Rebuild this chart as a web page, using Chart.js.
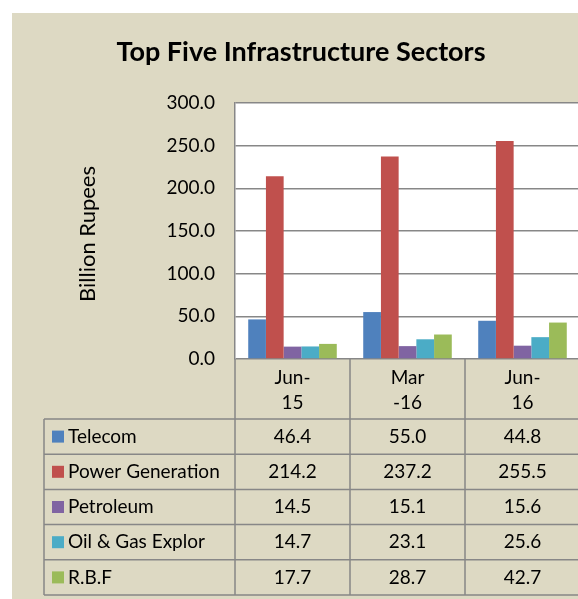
<!DOCTYPE html>
<html>
<head>
<meta charset="utf-8">
<script src="https://cdn.jsdelivr.net/npm/chart.js@4.4.1/dist/chart.umd.min.js"></script>
<style>
  html, body { margin: 0; padding: 0; background: #ffffff; overflow: hidden; }
  #wrap { position: absolute; left: 0; top: 0; width: 582px; height: 599px; }
</style>
</head>
<body>
<div id="wrap"><canvas id="chart" width="582" height="599"></canvas></div>
<script>
// chart data
const categories = [['Jun-', '15'], ['Mar', '-16'], ['Jun-', '16']];
const seriesNames = ['Telecom', 'Power Generation', 'Petroleum', 'Oil & Gas Explor', 'R.B.F'];
const telecom = [46.4, 55.0, 44.8];
const powerGeneration = [214.2, 237.2, 255.5];
const petroleum = [14.5, 15.1, 15.6];
const oilGas = [14.7, 23.1, 25.6];
const rbf = [17.7, 28.7, 42.7];
const yTicks = [0, 50, 100, 150, 200, 250, 300];

const seriesValues = [telecom, powerGeneration, petroleum, oilGas, rbf];
const colors = ['#4F81BD', '#C0504D', '#8064A2', '#4BACC6', '#9BBB59'];

const FONT = 'Lato, "Noto Sans", sans-serif';
const LINE = '#878787';
const TABLE_LEFT = 44;
const HEADER_BOTTOM = 419;
const ROW_H = 35.2;

// background, title, axis title and data table
const tablePlugin = {
    id: 'tablePlugin',
    beforeDraw(chart) {
        const ctx = chart.ctx;
        const a = chart.chartArea;
        ctx.save();
        ctx.fillStyle = '#ffffff';
        ctx.fillRect(0, 0, chart.width, chart.height);
        ctx.fillStyle = '#DDD9C3';
        ctx.fillRect(12, 13, chart.width - 12, chart.height - 13);
        ctx.fillStyle = '#ffffff';
        ctx.fillRect(a.left, a.top, a.right - a.left, a.bottom - a.top);
        ctx.restore();
    },
    afterDraw(chart) {
        const ctx = chart.ctx;
        const a = chart.chartArea;
        const x = chart.scales.x;
        const n = categories.length;
        const colW = (a.right - a.left) / n;
        const tableBottom = HEADER_BOTTOM + ROW_H * seriesNames.length;

        ctx.save();
        ctx.fillStyle = '#000000';

        // title
        ctx.font = 'bold 27px ' + FONT;
        ctx.textAlign = 'center';
        ctx.textBaseline = 'middle';
        ctx.fillText('Top Five Infrastructure Sectors', 301, 52);

        // y axis title
        ctx.save();
        ctx.translate(88, 234);
        ctx.rotate(-Math.PI / 2);
        ctx.font = '22px ' + FONT;
        ctx.fillText('Billion Rupees', 0, 0);
        ctx.restore();

        // table lines
        ctx.strokeStyle = LINE;
        ctx.lineWidth = 1.5;
        ctx.beginPath();
        for (let i = 0; i <= n; i++) {
            const px = a.left + colW * i;
            ctx.moveTo(px, a.bottom);
            ctx.lineTo(px, tableBottom);
        }
        ctx.moveTo(TABLE_LEFT, HEADER_BOTTOM);
        ctx.lineTo(TABLE_LEFT, tableBottom);
        for (let r = 0; r <= seriesNames.length; r++) {
            const py = HEADER_BOTTOM + ROW_H * r;
            ctx.moveTo(TABLE_LEFT, py);
            ctx.lineTo(a.right, py);
        }
        ctx.stroke();

        // category labels
        ctx.font = '19px ' + FONT;
        ctx.textAlign = 'center';
        categories.forEach((lines, i) => {
            const cx = x.getPixelForValue(i);
            ctx.fillText(lines[0], cx, 378);
            ctx.fillText(lines[1], cx, 403);
        });

        // series rows
        seriesNames.forEach((name, r) => {
            const cy = HEADER_BOTTOM + ROW_H * r + ROW_H / 2;
            ctx.fillStyle = colors[r];
            ctx.fillRect(52, cy - 6, 12, 12);
            ctx.fillStyle = '#000000';
            ctx.textAlign = 'left';
            ctx.fillText(name, 68, cy);
            ctx.textAlign = 'center';
            seriesValues[r].forEach((v, i) => {
                ctx.fillText(v.toFixed(1), x.getPixelForValue(i), cy);
            });
        });
        ctx.restore();
    }
};

new Chart(document.getElementById('chart'), {
    type: 'bar',
    data: {
        labels: categories.map(c => c.join('')),
        datasets: seriesNames.map((name, i) => ({
            label: name,
            data: seriesValues[i],
            backgroundColor: colors[i],
            borderWidth: 0,
            categoryPercentage: 0.77,
            barPercentage: 1.0
        }))
    },
    options: {
        responsive: false,
        animation: false,
        devicePixelRatio: 1,
        layout: { padding: { left: 0, top: 103, right: 2, bottom: 240 } },
        plugins: {
            legend: { display: false },
            title: { display: false },
            tooltip: { enabled: false }
        },
        scales: {
            x: { display: false },
            y: {
                min: 0,
                max: 300,
                afterFit: (scale) => { scale.width = 235; },
                afterBuildTicks: (scale) => { scale.ticks = yTicks.map(v => ({ value: v })); },
                ticks: {
                    color: '#000000',
                    padding: 20,
                    font: { family: FONT, size: 19 },
                    callback: (v) => Number(v).toFixed(1)
                },
                grid: { color: LINE, lineWidth: 1.5, drawTicks: false },
                border: { display: true, color: LINE, width: 1.5 }
            }
        }
    },
    plugins: [tablePlugin]
});
</script>
</body>
</html>
